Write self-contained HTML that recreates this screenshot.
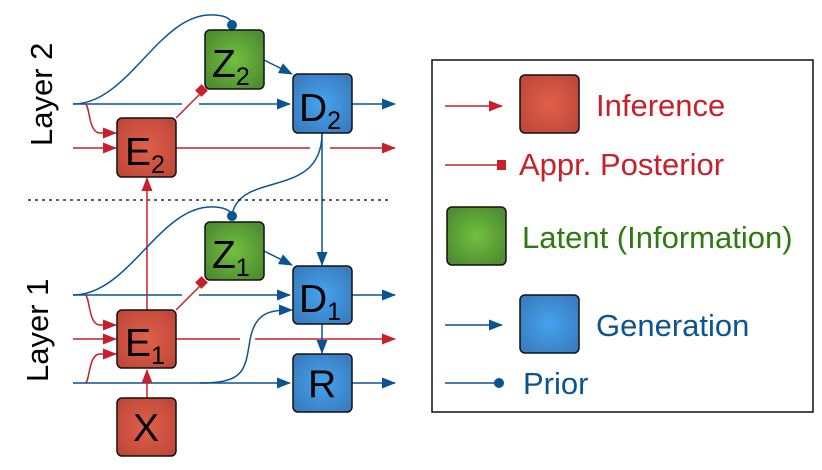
<!DOCTYPE html>
<html><head><style>body{margin:0;background:#fff}svg{display:block}</style></head><body>
<svg width="822" height="470" viewBox="0 0 822 470" xmlns="http://www.w3.org/2000/svg" font-family="Liberation Sans, sans-serif">
<defs>
<radialGradient id="gr" cx="50%" cy="50%" r="60%"><stop offset="0" stop-color="#e0604a"/><stop offset="1" stop-color="#c0483a"/></radialGradient>
<radialGradient id="gg" cx="50%" cy="50%" r="60%"><stop offset="0" stop-color="#72c040"/><stop offset="1" stop-color="#4e8c30"/></radialGradient>
<radialGradient id="gb" cx="50%" cy="50%" r="60%"><stop offset="0" stop-color="#45a4ee"/><stop offset="1" stop-color="#3a7cc0"/></radialGradient>
<marker id="ar" markerWidth="14" markerHeight="11" refX="13" refY="5.5" orient="auto" markerUnits="userSpaceOnUse"><path d="M0,0L14,5.5L0,11z" fill="#c8202a"/></marker>
<marker id="ab" markerWidth="14" markerHeight="11" refX="13" refY="5.5" orient="auto" markerUnits="userSpaceOnUse"><path d="M0,0L14,5.5L0,11z" fill="#0b5494"/></marker>
</defs>
<g fill="none" stroke-width="1.5">
<path d="M73 104H182M199 104H290" stroke="#0b5494" marker-end="url(#ab)"/>
<path d="M73 104C130 104 160 10 215 15C228 16 232 20 232 25" stroke="#0b5494"/>
<path d="M85 104C90 104 88 133 100 133H116" stroke="#c8202a" marker-end="url(#ar)"/>
<path d="M73 148H116" stroke="#c8202a" marker-end="url(#ar)"/>
<path d="M176 148H310M330 148H395" stroke="#c8202a" marker-end="url(#ar)"/>
<path d="M176 118L202 92" stroke="#c8202a"/>
<path d="M264 60L292 74" stroke="#0b5494" marker-end="url(#ab)"/>
<path d="M352 104H395" stroke="#0b5494" marker-end="url(#ab)"/>
<path d="M322 133V265" stroke="#0b5494" marker-end="url(#ab)"/>
<path d="M322 133C322 200 240 170 232 215" stroke="#0b5494"/>
<path d="M28 200H392" stroke="#000" stroke-width="1.3" stroke-dasharray="3,4"/>
<path d="M147 310V178" stroke="#c8202a" marker-end="url(#ar)"/>
<path d="M73 295H182M199 295H290" stroke="#0b5494" marker-end="url(#ab)"/>
<path d="M73 295C130 295 160 203 215 207C228 208 232 212 232 217" stroke="#0b5494"/>
<path d="M85 295C90 295 88 325 100 325H116" stroke="#c8202a" marker-end="url(#ar)"/>
<path d="M73 339H116" stroke="#c8202a" marker-end="url(#ar)"/>
<path d="M85 383C90 383 88 354 100 354H116" stroke="#c8202a" marker-end="url(#ar)"/>
<path d="M176 339H240M255 339H395" stroke="#c8202a" marker-end="url(#ar)"/>
<path d="M176 310L202 284" stroke="#c8202a"/>
<path d="M264 251L292 265" stroke="#0b5494" marker-end="url(#ab)"/>
<path d="M352 295H395" stroke="#0b5494" marker-end="url(#ab)"/>
<path d="M73 383H290" stroke="#0b5494" marker-end="url(#ab)"/>
<path d="M200 383C245 383 245 370 250 340C255 312 270 310 292 310" stroke="#0b5494" marker-end="url(#ab)"/>
<path d="M322 324V353" stroke="#0b5494" marker-end="url(#ab)"/>
<path d="M352 383H395" stroke="#0b5494" marker-end="url(#ab)"/>
<path d="M147 398V370" stroke="#c8202a" marker-end="url(#ar)"/>
</g>
<circle cx="232" cy="25" r="5" fill="#0b5494"/>
<circle cx="232" cy="216" r="5" fill="#0b5494"/>
<rect x="197" y="86" width="9" height="9" fill="#c8202a" transform="rotate(45 201.5 90.5)"/>
<rect x="197" y="278" width="9" height="9" fill="#c8202a" transform="rotate(45 201.5 282.5)"/>
<g stroke="#111" stroke-width="1.5">
<rect x="205" y="30" width="59" height="59" rx="5" fill="url(#gg)"/>
<rect x="293" y="74" width="59" height="59" rx="5" fill="url(#gb)"/>
<rect x="117" y="118" width="59" height="59" rx="5" fill="url(#gr)"/>
<rect x="205" y="222" width="59" height="58" rx="5" fill="url(#gg)"/>
<rect x="293" y="266" width="59" height="58" rx="5" fill="url(#gb)"/>
<rect x="117" y="310" width="59" height="58" rx="5" fill="url(#gr)"/>
<rect x="293" y="354" width="59" height="58" rx="5" fill="url(#gb)"/>
<rect x="117" y="398" width="59" height="58" rx="5" fill="url(#gr)"/>
</g>
<g fill="#000" font-size="39">
<text x="212" y="77">Z<tspan font-size="25" dy="8">2</tspan></text>
<text x="299" y="121">D<tspan font-size="25" dy="8">2</tspan></text>
<text x="125" y="165">E<tspan font-size="25" dy="8">2</tspan></text>
<text x="212" y="268">Z<tspan font-size="25" dy="8">1</tspan></text>
<text x="299" y="312">D<tspan font-size="25" dy="8">1</tspan></text>
<text x="125" y="356">E<tspan font-size="25" dy="8">1</tspan></text>
<text x="308" y="397">R</text>
<text x="133" y="441">X</text>
<text transform="translate(52 146) rotate(-90)" font-size="31">Layer 2</text>
<text transform="translate(48 382) rotate(-90)" font-size="31">Layer 1</text>
</g>
<rect x="432" y="60" width="381" height="352" fill="none" stroke="#111" stroke-width="1.5"/>
<path d="M445 106H502" stroke="#c8202a" stroke-width="1.5" marker-end="url(#ar)"/>
<path d="M445 165H500" stroke="#c8202a" stroke-width="1.5"/>
<rect x="497" y="160" width="9" height="10" fill="#c8202a"/>
<path d="M445 325H502" stroke="#0b5494" stroke-width="1.5" marker-end="url(#ab)"/>
<path d="M445 383H498" stroke="#0b5494" stroke-width="1.5"/>
<circle cx="499" cy="383" r="5" fill="#0b5494"/>
<g stroke="#111" stroke-width="1.5">
<rect x="520" y="75" width="59" height="58" rx="5" fill="url(#gr)"/>
<rect x="447" y="207" width="59" height="58" rx="5" fill="url(#gg)"/>
<rect x="520" y="295" width="59" height="58" rx="5" fill="url(#gb)"/>
</g>
<g font-size="31">
<text x="596" y="116" fill="#c8202a">Inference</text>
<text x="519" y="175" fill="#c8202a">Appr. Posterior</text>
<text x="522" y="248" fill="#2e7a10">Latent (Information)</text>
<text x="596" y="336" fill="#0b5494">Generation</text>
<text x="523" y="394" fill="#0b5494">Prior</text>
</g>
</svg>
</body></html>
